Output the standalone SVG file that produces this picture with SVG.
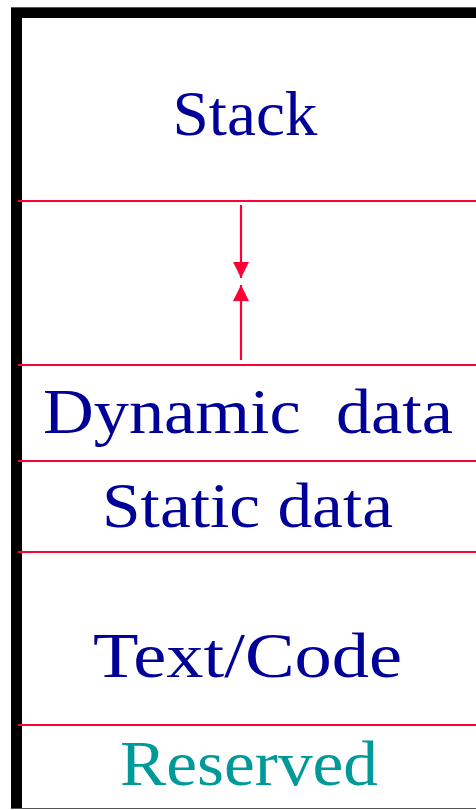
<svg xmlns="http://www.w3.org/2000/svg" width="476" height="810" viewBox="0 0 476 810">
<defs>
<style>
.lbl{font-family:"Liberation Serif","Times New Roman",serif;font-size:63px;text-anchor:middle;fill:#000099}
.res{fill:#009999}
.sep{stroke:#FF0033;stroke-width:2.2;fill:none}
.arr{stroke:#FF0033;stroke-width:2.2;fill:none}
</style>
<marker id="ah" viewBox="0 0 16 16" refX="16" refY="8" markerWidth="16" markerHeight="16" markerUnits="userSpaceOnUse" orient="auto">
<path d="M0,0 L16,8 L0,16 Z" fill="#FF0033"/>
</marker>
</defs>
<rect width="476" height="810" fill="#ffffff"/>
<g id="frame">
<rect x="11" y="7" width="11" height="801" fill="#000"/>
<rect x="11" y="7" width="465" height="11" fill="#000"/>
<line x1="11" y1="7.5" x2="476" y2="7.5" stroke="#555" stroke-width="1"/>
<line x1="11" y1="808.5" x2="476" y2="808.5" stroke="#555" stroke-width="1"/>
</g>
<g id="stack">
<text class="lbl" x="245" y="135" textLength="145" lengthAdjust="spacingAndGlyphs">Stack</text>
<line class="sep" x1="18" y1="201" x2="476" y2="201"/>
</g>
<g id="free">
<line class="sep" x1="18" y1="365" x2="476" y2="365"/>
</g>
<g id="dynamic">
<text class="lbl" x="248" y="433" textLength="410" lengthAdjust="spacingAndGlyphs" xml:space="preserve">Dynamic  data</text>
<line class="sep" x1="18" y1="461" x2="476" y2="461"/>
</g>
<g id="static">
<text class="lbl" x="247.5" y="527" textLength="291" lengthAdjust="spacingAndGlyphs">Static data</text>
<line class="sep" x1="18" y1="552" x2="476" y2="552"/>
</g>
<g id="text">
<text class="lbl" x="247.5" y="677" textLength="309" lengthAdjust="spacingAndGlyphs">Text/Code</text>
<line class="sep" x1="18" y1="725" x2="476" y2="725"/>
</g>
<g id="reserved">
<text class="lbl res" x="249" y="785" textLength="258" lengthAdjust="spacingAndGlyphs">Reserved</text>
</g>
<g id="connectors">
<line class="arr" x1="241" y1="205" x2="241" y2="278" marker-end="url(#ah)"/>
<line class="arr" x1="241" y1="360" x2="241" y2="285" marker-end="url(#ah)"/>
</g>
</svg>
